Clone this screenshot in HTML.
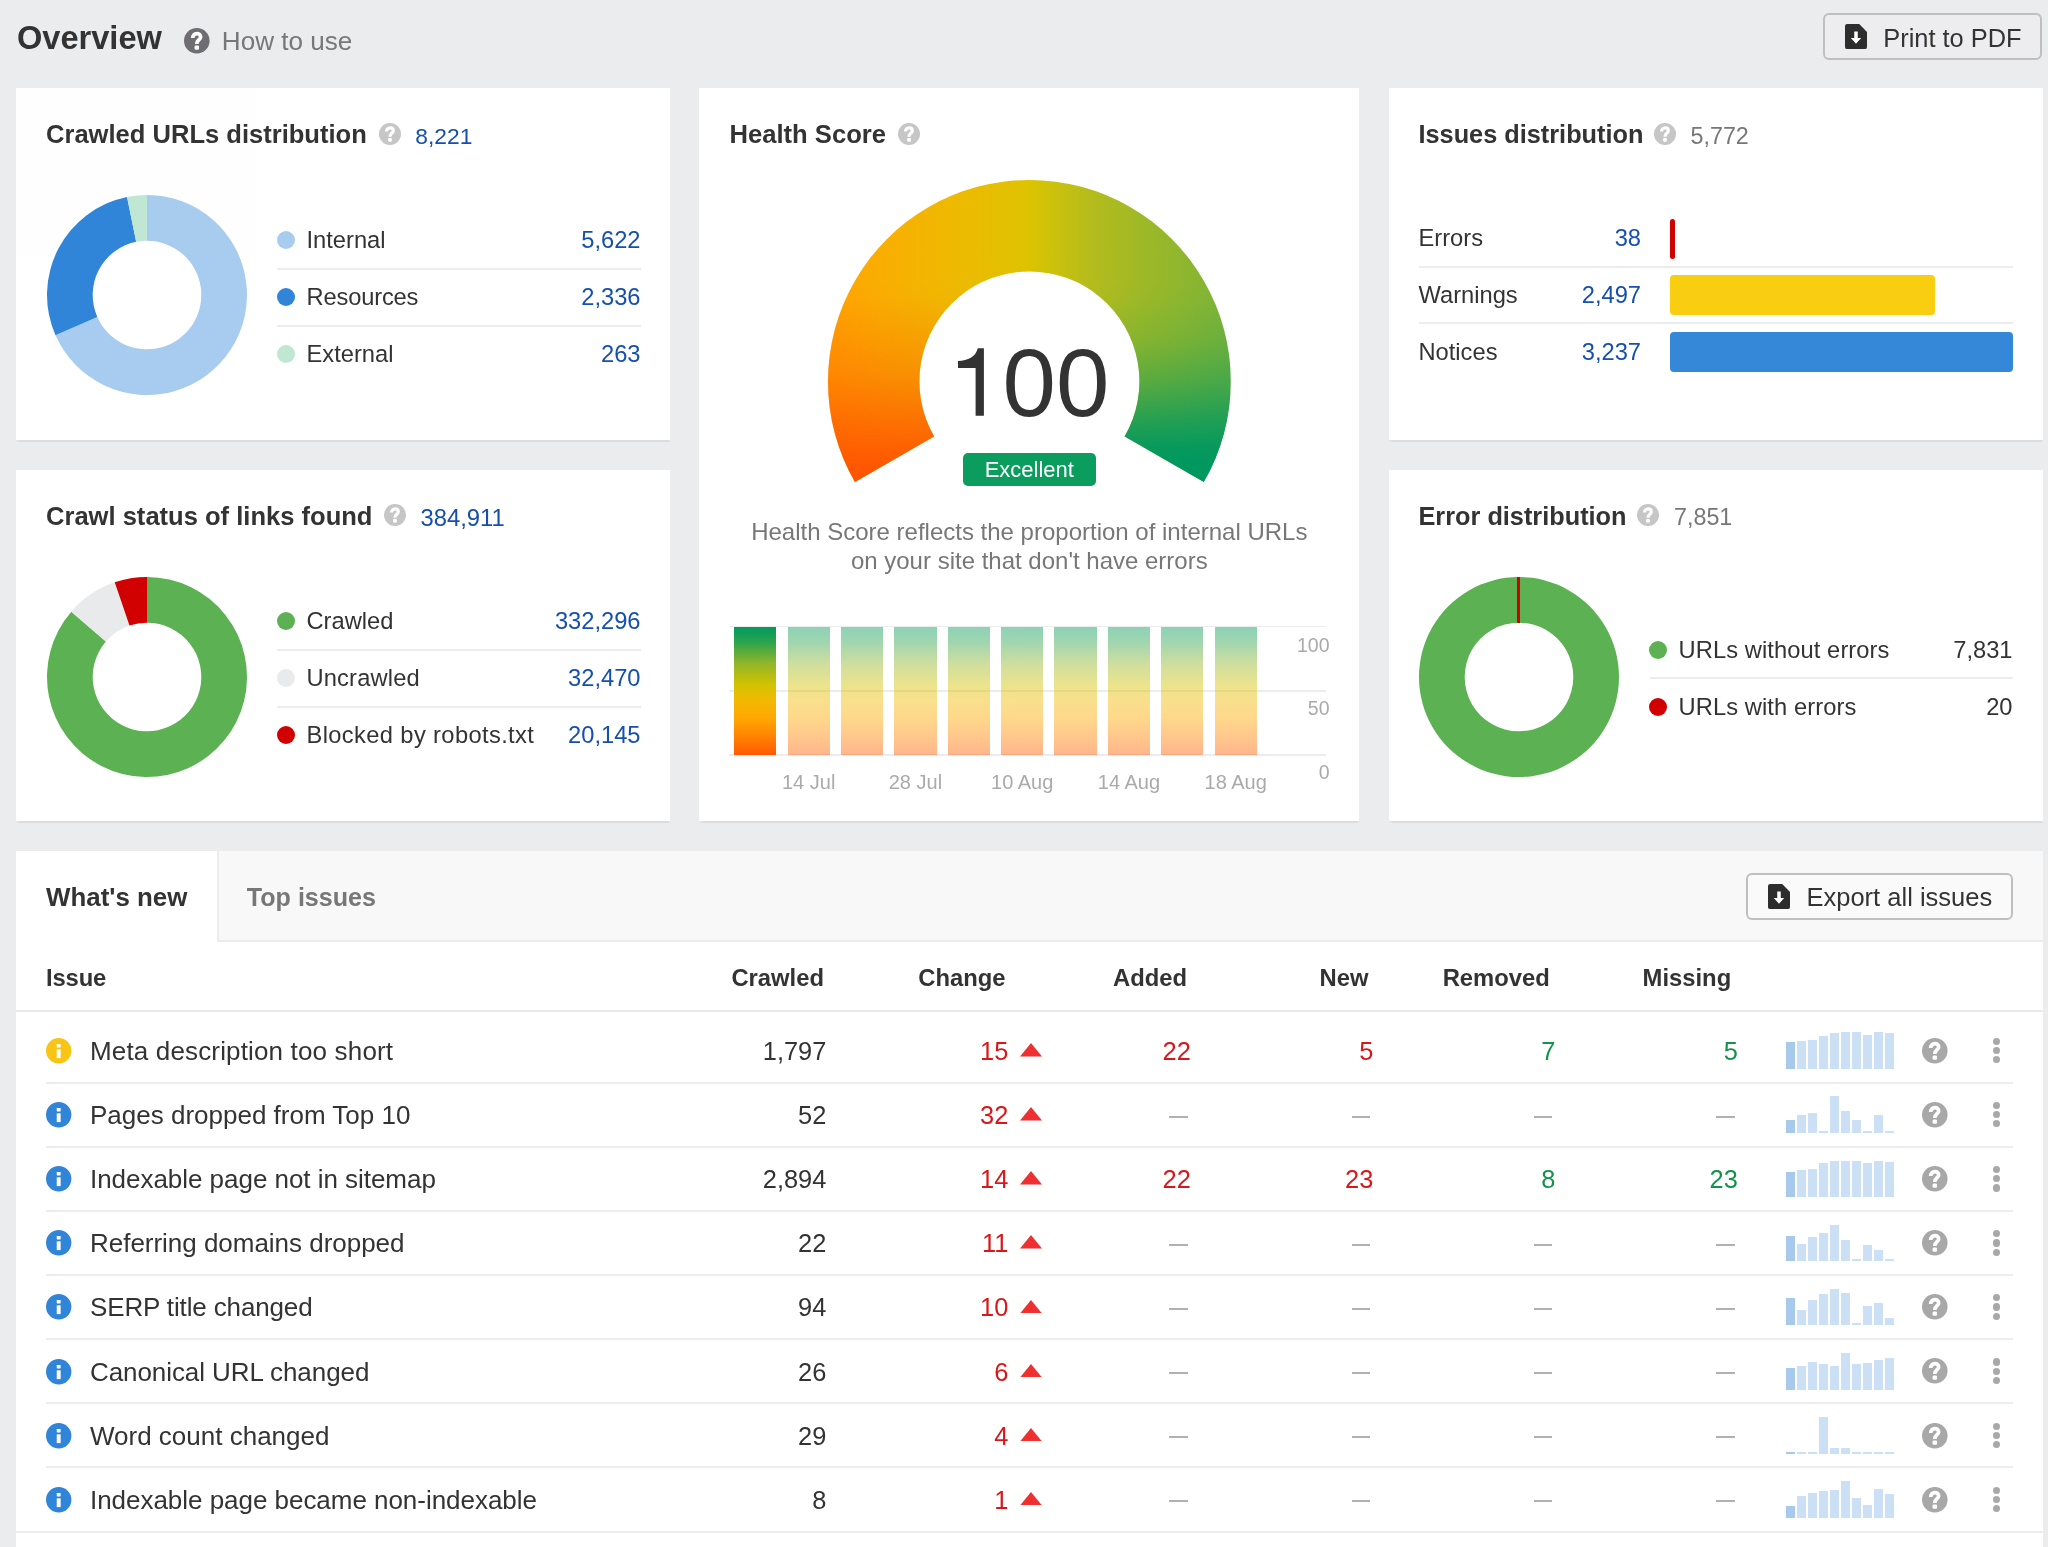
<!DOCTYPE html><html><head><meta charset="utf-8"><title>Overview</title><style>
html,body{margin:0;padding:0;width:2048px;height:1547px;overflow:hidden}
body{width:2048px;height:1547px;background:#ebecee;font-family:"Liberation Sans", sans-serif;color:#333;position:relative;overflow:hidden}
.card{position:absolute;background:#fff;box-shadow:0 1.5px 1px rgba(0,0,0,.07)}
.hl{position:absolute;height:2px;background:#ececec}
.dot{position:absolute;width:18px;height:18px;border-radius:50%}
.btn{position:absolute;box-sizing:border-box;border:2px solid #bfbfc1;border-radius:6px}
#w{position:absolute;left:0;top:0;width:2048px;height:1547px;will-change:transform;opacity:.9999;overflow:hidden}
</style></head><body><div id="w">
<div style="position:absolute;top:21.60px;font-size:32.6px;line-height:32.6px;white-space:nowrap;color:#333;font-weight:bold;left:17.00px;">Overview</div>
<svg style="position:absolute;left:184.10px;top:27.70px;overflow:visible" width="25.60" height="25.60" viewBox="0 0 24 24"><circle cx="12" cy="12" r="12" fill="#6e6e72"/><path d="M8.2 9.4C8.2 6.9 9.8 5.3 12.1 5.3C14.3 5.3 15.6 6.7 15.6 8.4C15.6 9.9 14.6 10.7 13.6 11.5C12.5 12.4 12 13.1 12 14.9" fill="none" stroke="#fff" stroke-width="3.5"/><rect x="9.9" y="16.3" width="4.2" height="4.1" rx="1.2" fill="#fff"/></svg>
<div style="position:absolute;top:28.41px;font-size:26.1px;line-height:26.1px;white-space:nowrap;color:#777;left:221.80px;">How to use</div>
<div class="btn" style="left:1822.7px;top:12.8px;width:219.8px;height:47.4px;background:#ededef"></div>
<svg style="position:absolute;left:1844.60px;top:24.20px;overflow:visible" width="22" height="25.2" viewBox="0 0 22 25"><path d="M2.2 0H14.2L22 7.8V22.8Q22 25 19.8 25H2.2Q0 25 0 22.8V2.2Q0 0 2.2 0Z" fill="#2d2d2d"/><path d="M9.25 7.4h3.5v6.6h3.45L11 19.7 5.8 14h3.45z" fill="#fff"/></svg>
<div style="position:absolute;top:25.60px;font-size:25.4px;line-height:25.4px;white-space:nowrap;color:#333;left:1883.30px;">Print to PDF</div>
<div class="card" style="left:16px;top:88px;width:654px;height:352px"></div>
<div class="card" style="left:699px;top:88px;width:660px;height:733px"></div>
<div class="card" style="left:1389px;top:88px;width:654px;height:352px"></div>
<div class="card" style="left:16px;top:469.5px;width:654px;height:351.5px"></div>
<div class="card" style="left:1389px;top:469.5px;width:654px;height:351.5px"></div>
<div style="position:absolute;top:122.27px;font-size:25.55px;line-height:25.55px;white-space:nowrap;color:#333;font-weight:bold;left:46.00px;">Crawled URLs distribution</div>
<svg style="position:absolute;left:378.60px;top:123.20px;overflow:visible" width="22.00" height="22.00" viewBox="0 0 24 24"><circle cx="12" cy="12" r="12" fill="#c6c6c6"/><path d="M8.2 9.4C8.2 6.9 9.8 5.3 12.1 5.3C14.3 5.3 15.6 6.7 15.6 8.4C15.6 9.9 14.6 10.7 13.6 11.5C12.5 12.4 12 13.1 12 14.9" fill="none" stroke="#fff" stroke-width="3.5"/><rect x="9.9" y="16.3" width="4.2" height="4.1" rx="1.2" fill="#fff"/></svg>
<div style="position:absolute;top:125.00px;font-size:22.8px;line-height:22.8px;white-space:nowrap;color:#1450ac;left:415.30px;">8,221</div>
<svg style="position:absolute;left:45.00px;top:193.30px" width="204" height="204" viewBox="-102 -102 204 204">
<path d="M0.00 -100.00A100 100 0 1 1 -91.49 40.37L-49.68 21.92A54.3 54.3 0 1 0 0.00 -54.30Z" fill="#a8ccef"/>
<path d="M-91.49 40.37A100 100 0 0 1 -19.97 -97.99L-10.84 -53.21A54.3 54.3 0 0 0 -49.68 21.92Z" fill="#3185d9"/>
<path d="M-19.97 -97.99A100 100 0 0 1 -0.00 -100.00L-0.00 -54.30A54.3 54.3 0 0 0 -10.84 -53.21Z" fill="#bfe7d3"/>
</svg>
<div class="dot" style="left:276.70px;top:231.30px;background:#a8ccef"></div>
<div style="position:absolute;top:229.180px;font-size:23.7px;line-height:23.7px;white-space:nowrap;color:#333;left:306.50px;letter-spacing:0px;">Internal</div>
<div style="position:absolute;top:229.180px;font-size:23.7px;line-height:23.7px;white-space:nowrap;color:#1450ac;right:1407.50px;">5,622</div>
<div class="dot" style="left:276.70px;top:288.00px;background:#3185d9"></div>
<div style="position:absolute;top:286.180px;font-size:23.7px;line-height:23.7px;white-space:nowrap;color:#333;left:306.50px;letter-spacing:-0.16px;">Resources</div>
<div style="position:absolute;top:286.180px;font-size:23.7px;line-height:23.7px;white-space:nowrap;color:#1450ac;right:1407.50px;">2,336</div>
<div class="dot" style="left:276.70px;top:344.70px;background:#bfe7d3"></div>
<div style="position:absolute;top:343.180px;font-size:23.7px;line-height:23.7px;white-space:nowrap;color:#333;left:306.50px;letter-spacing:0px;">External</div>
<div style="position:absolute;top:343.180px;font-size:23.7px;line-height:23.7px;white-space:nowrap;color:#1450ac;right:1407.50px;">263</div>
<div class="hl" style="left:276.80px;top:268.00px;width:364.00px"></div>
<div class="hl" style="left:276.80px;top:324.70px;width:364.00px"></div>
<div style="position:absolute;top:503.57px;font-size:25.55px;line-height:25.55px;white-space:nowrap;color:#333;font-weight:bold;left:46.00px;">Crawl status of links found</div>
<svg style="position:absolute;left:384.00px;top:504.20px;overflow:visible" width="22.00" height="22.00" viewBox="0 0 24 24"><circle cx="12" cy="12" r="12" fill="#c6c6c6"/><path d="M8.2 9.4C8.2 6.9 9.8 5.3 12.1 5.3C14.3 5.3 15.6 6.7 15.6 8.4C15.6 9.9 14.6 10.7 13.6 11.5C12.5 12.4 12 13.1 12 14.9" fill="none" stroke="#fff" stroke-width="3.5"/><rect x="9.9" y="16.3" width="4.2" height="4.1" rx="1.2" fill="#fff"/></svg>
<div style="position:absolute;top:505.55px;font-size:23.8px;line-height:23.8px;white-space:nowrap;color:#1450ac;left:420.50px;">384,911</div>
<svg style="position:absolute;left:45.00px;top:574.80px" width="204" height="204" viewBox="-102 -102 204 204">
<path d="M0.00 -100.00A100 100 0 1 1 -75.71 -65.33L-41.11 -35.47A54.3 54.3 0 1 0 0.00 -54.30Z" fill="#5cb253"/>
<path d="M-75.71 -65.33A100 100 0 0 1 -32.29 -94.64L-17.54 -51.39A54.3 54.3 0 0 0 -41.11 -35.47Z" fill="#e9eaec"/>
<path d="M-32.29 -94.64A100 100 0 0 1 -0.00 -100.00L-0.00 -54.30A54.3 54.3 0 0 0 -17.54 -51.39Z" fill="#d20000"/>
</svg>
<div class="dot" style="left:276.70px;top:612.30px;background:#5cb253"></div>
<div style="position:absolute;top:610.180px;font-size:23.7px;line-height:23.7px;white-space:nowrap;color:#333;left:306.50px;letter-spacing:0px;">Crawled</div>
<div style="position:absolute;top:610.180px;font-size:23.7px;line-height:23.7px;white-space:nowrap;color:#1450ac;right:1407.50px;">332,296</div>
<div class="dot" style="left:276.70px;top:669.30px;background:#e9eaec"></div>
<div style="position:absolute;top:667.180px;font-size:23.7px;line-height:23.7px;white-space:nowrap;color:#333;left:306.50px;letter-spacing:0.16px;">Uncrawled</div>
<div style="position:absolute;top:667.180px;font-size:23.7px;line-height:23.7px;white-space:nowrap;color:#1450ac;right:1407.50px;">32,470</div>
<div class="dot" style="left:276.70px;top:726.20px;background:#d20000"></div>
<div style="position:absolute;top:724.180px;font-size:23.7px;line-height:23.7px;white-space:nowrap;color:#333;left:306.50px;letter-spacing:0.375px;">Blocked by robots.txt</div>
<div style="position:absolute;top:724.180px;font-size:23.7px;line-height:23.7px;white-space:nowrap;color:#1450ac;right:1407.50px;">20,145</div>
<div class="hl" style="left:276.80px;top:649.00px;width:364.00px"></div>
<div class="hl" style="left:276.80px;top:705.70px;width:364.00px"></div>
<div style="position:absolute;top:122.48px;font-size:25.3px;line-height:25.3px;white-space:nowrap;color:#333;font-weight:bold;left:1418.50px;">Issues distribution</div>
<svg style="position:absolute;left:1653.60px;top:123.20px;overflow:visible" width="22.00" height="22.00" viewBox="0 0 24 24"><circle cx="12" cy="12" r="12" fill="#c6c6c6"/><path d="M8.2 9.4C8.2 6.9 9.8 5.3 12.1 5.3C14.3 5.3 15.6 6.7 15.6 8.4C15.6 9.9 14.6 10.7 13.6 11.5C12.5 12.4 12 13.1 12 14.9" fill="none" stroke="#fff" stroke-width="3.5"/><rect x="9.9" y="16.3" width="4.2" height="4.1" rx="1.2" fill="#fff"/></svg>
<div style="position:absolute;top:124.58px;font-size:23.3px;line-height:23.3px;white-space:nowrap;color:#777;left:1690.50px;">5,772</div>
<div style="position:absolute;top:227.180px;font-size:23.7px;line-height:23.7px;white-space:nowrap;color:#333;left:1418.50px;">Errors</div>
<div style="position:absolute;top:227.180px;font-size:23.7px;line-height:23.7px;white-space:nowrap;color:#1450ac;right:407.00px;">38</div>
<div style="position:absolute;top:284.180px;font-size:23.7px;line-height:23.7px;white-space:nowrap;color:#333;left:1418.50px;">Warnings</div>
<div style="position:absolute;top:284.180px;font-size:23.7px;line-height:23.7px;white-space:nowrap;color:#1450ac;right:407.00px;">2,497</div>
<div style="position:absolute;top:341.180px;font-size:23.7px;line-height:23.7px;white-space:nowrap;color:#333;left:1418.50px;">Notices</div>
<div style="position:absolute;top:341.180px;font-size:23.7px;line-height:23.7px;white-space:nowrap;color:#1450ac;right:407.00px;">3,237</div>
<div class="hl" style="left:1418.5px;top:265.5px;width:594.5px"></div>
<div class="hl" style="left:1418.5px;top:322.4px;width:594.5px"></div>
<div style="position:absolute;left:1670.3px;top:218.5px;width:4.5px;height:40px;border-radius:2.5px;background:#d20000"></div>
<div style="position:absolute;left:1670.3px;top:275px;width:264.8px;height:40px;border-radius:4px;background:#f9ce10"></div>
<div style="position:absolute;left:1670.3px;top:332px;width:342.7px;height:40px;border-radius:4px;background:#3587d8"></div>
<div style="position:absolute;top:503.78px;font-size:25.3px;line-height:25.3px;white-space:nowrap;color:#333;font-weight:bold;left:1418.50px;">Error distribution</div>
<svg style="position:absolute;left:1637.00px;top:504.20px;overflow:visible" width="22.00" height="22.00" viewBox="0 0 24 24"><circle cx="12" cy="12" r="12" fill="#c6c6c6"/><path d="M8.2 9.4C8.2 6.9 9.8 5.3 12.1 5.3C14.3 5.3 15.6 6.7 15.6 8.4C15.6 9.9 14.6 10.7 13.6 11.5C12.5 12.4 12 13.1 12 14.9" fill="none" stroke="#fff" stroke-width="3.5"/><rect x="9.9" y="16.3" width="4.2" height="4.1" rx="1.2" fill="#fff"/></svg>
<div style="position:absolute;top:505.78px;font-size:23.3px;line-height:23.3px;white-space:nowrap;color:#777;left:1674.00px;">7,851</div>
<svg style="position:absolute;left:1416.60px;top:574.80px" width="204" height="204" viewBox="-102 -102 204 204">
<path d="M0.00 -100.00A100 100 0 1 1 -0.02 -100.00L-0.01 -54.30A54.3 54.3 0 1 0 0.00 -54.30Z" fill="#5cb253"/>
</svg>
<div style="position:absolute;left:1516.6px;top:576.8px;width:3.2px;height:46px;background:#d20000"></div>
<div class="dot" style="left:1649.40px;top:641.30px;background:#5cb253"></div>
<div style="position:absolute;top:639.180px;font-size:23.7px;line-height:23.7px;white-space:nowrap;color:#333;left:1678.50px;letter-spacing:0.09px;">URLs without errors</div>
<div style="position:absolute;top:639.180px;font-size:23.7px;line-height:23.7px;white-space:nowrap;color:#333;right:35.50px;">7,831</div>
<div class="dot" style="left:1649.40px;top:697.90px;background:#d20000"></div>
<div style="position:absolute;top:696.180px;font-size:23.7px;line-height:23.7px;white-space:nowrap;color:#333;left:1678.50px;letter-spacing:0.09px;">URLs with errors</div>
<div style="position:absolute;top:696.180px;font-size:23.7px;line-height:23.7px;white-space:nowrap;color:#333;right:35.50px;">20</div>
<div class="hl" style="left:1649.70px;top:677.10px;width:363.30px"></div>
<div style="position:absolute;top:122.23px;font-size:25.6px;line-height:25.6px;white-space:nowrap;color:#333;font-weight:bold;left:729.50px;">Health Score</div>
<svg style="position:absolute;left:897.50px;top:123.00px;overflow:visible" width="22.00" height="22.00" viewBox="0 0 24 24"><circle cx="12" cy="12" r="12" fill="#c6c6c6"/><path d="M8.2 9.4C8.2 6.9 9.8 5.3 12.1 5.3C14.3 5.3 15.6 6.7 15.6 8.4C15.6 9.9 14.6 10.7 13.6 11.5C12.5 12.4 12 13.1 12 14.9" fill="none" stroke="#fff" stroke-width="3.5"/><rect x="9.9" y="16.3" width="4.2" height="4.1" rx="1.2" fill="#fff"/></svg>
<svg style="position:absolute;left:825.90px;top:177.80px;overflow:visible" width="406.8" height="406.8" viewBox="-203.4 -203.4 406.8 406.8">
<defs>
<clipPath id="gc"><path d="M-174.42 100.70A201.4 201.4 0 1 1 174.42 100.70L95.26 55.00A110 110 0 1 0 -95.26 55.00Z"/></clipPath>
<linearGradient id="gh" x1="0" y1="0" x2="1" y2="0">
<stop offset="0" stop-color="#ffa400"/>
<stop offset="0.13" stop-color="#f9ae00"/>
<stop offset="0.29" stop-color="#f0b800"/>
<stop offset="0.49" stop-color="#dfc300"/>
<stop offset="0.545" stop-color="#d0c208"/>
<stop offset="0.65" stop-color="#b5bc1c"/>
<stop offset="0.8" stop-color="#9bb828"/>
<stop offset="0.96" stop-color="#82b535"/>
<stop offset="1" stop-color="#7db437"/>
</linearGradient>
<linearGradient id="gl" x1="0" y1="0" x2="0" y2="1">
<stop offset="0" stop-color="#ff5200" stop-opacity="0"/>
<stop offset="0.08" stop-color="#ff5200" stop-opacity="0.02"/>
<stop offset="0.45" stop-color="#ff5200" stop-opacity="0.35"/>
<stop offset="0.7" stop-color="#ff5200" stop-opacity="0.68"/>
<stop offset="0.9" stop-color="#ff5200" stop-opacity="0.93"/>
<stop offset="1" stop-color="#ff5200" stop-opacity="1"/>
</linearGradient>
<linearGradient id="gr" x1="0" y1="0" x2="0" y2="1">
<stop offset="0" stop-color="#00985f" stop-opacity="0"/>
<stop offset="0.1" stop-color="#00985f" stop-opacity="0.03"/>
<stop offset="0.3" stop-color="#00985f" stop-opacity="0.17"/>
<stop offset="0.5" stop-color="#00985f" stop-opacity="0.44"/>
<stop offset="0.7" stop-color="#00985f" stop-opacity="0.78"/>
<stop offset="0.82" stop-color="#00985f" stop-opacity="0.95"/>
<stop offset="0.9" stop-color="#00985f" stop-opacity="1"/>
<stop offset="1" stop-color="#00985f" stop-opacity="1"/>
</linearGradient>
</defs>
<g clip-path="url(#gc)">
<rect x="-201.4" y="-201.4" width="402.8" height="402.8" fill="url(#gh)"/>
<rect x="-201.4" y="-100" width="201.4" height="202" fill="url(#gl)"/>
<rect x="0" y="-100" width="201.4" height="202" fill="url(#gr)"/>
</g></svg>
<div style="position:absolute;top:334.74px;font-size:96px;line-height:96px;white-space:nowrap;color:#333;left:429.30px;width:1200px;text-align:center;"><span style="visibility:hidden">1</span>00</div>
<svg style="position:absolute;left:0;top:0;overflow:visible" width="10" height="10"><path d="M977.8 348.2L983.9 348.2L983.9 415.8L975.6 415.8L975.6 368L958 368L958 360.9C968 360.6 975.5 357 977.8 348.2Z" fill="#333"/></svg>
<div style="position:absolute;left:963px;top:453px;width:133px;height:32.5px;border-radius:5px;background:#0a9d5e"></div>
<div style="position:absolute;top:458.68px;font-size:22px;line-height:22px;white-space:nowrap;color:#fff;left:429.30px;width:1200px;text-align:center;">Excellent</div>
<div style="position:absolute;top:520.28px;font-size:24px;line-height:24px;white-space:nowrap;color:#777;left:429.30px;width:1200px;text-align:center;">Health Score reflects the proportion of internal URLs</div>
<div style="position:absolute;top:549.48px;font-size:24px;line-height:24px;white-space:nowrap;color:#777;left:429.30px;width:1200px;text-align:center;">on your site that don't have errors</div>
<div style="position:absolute;left:729px;top:626.10px;width:597px;height:1.4px;background:#ececec"></div>
<div style="position:absolute;left:729px;top:690.20px;width:597px;height:1.4px;background:#ececec"></div>
<div style="position:absolute;left:729px;top:754.30px;width:597px;height:1.4px;background:#ececec"></div>
<div style="position:absolute;left:734.20px;top:626.8px;width:42.2px;height:128.2px;background:linear-gradient(to bottom,#009a5e 0%,#2da44d 12%,#8fb52a 28%,#d2c200 45%,#f3b800 58%,#ffa600 72%,#ff8200 86%,#ff5a00 100%);opacity:1"></div>
<div style="position:absolute;left:787.58px;top:626.8px;width:42.2px;height:128.2px;background:linear-gradient(to bottom,#009a5e 0%,#2da44d 12%,#8fb52a 28%,#d2c200 45%,#f3b800 58%,#ffa600 72%,#ff8200 86%,#ff5a00 100%);opacity:0.45"></div>
<div style="position:absolute;left:840.96px;top:626.8px;width:42.2px;height:128.2px;background:linear-gradient(to bottom,#009a5e 0%,#2da44d 12%,#8fb52a 28%,#d2c200 45%,#f3b800 58%,#ffa600 72%,#ff8200 86%,#ff5a00 100%);opacity:0.45"></div>
<div style="position:absolute;left:894.34px;top:626.8px;width:42.2px;height:128.2px;background:linear-gradient(to bottom,#009a5e 0%,#2da44d 12%,#8fb52a 28%,#d2c200 45%,#f3b800 58%,#ffa600 72%,#ff8200 86%,#ff5a00 100%);opacity:0.45"></div>
<div style="position:absolute;left:947.72px;top:626.8px;width:42.2px;height:128.2px;background:linear-gradient(to bottom,#009a5e 0%,#2da44d 12%,#8fb52a 28%,#d2c200 45%,#f3b800 58%,#ffa600 72%,#ff8200 86%,#ff5a00 100%);opacity:0.45"></div>
<div style="position:absolute;left:1001.10px;top:626.8px;width:42.2px;height:128.2px;background:linear-gradient(to bottom,#009a5e 0%,#2da44d 12%,#8fb52a 28%,#d2c200 45%,#f3b800 58%,#ffa600 72%,#ff8200 86%,#ff5a00 100%);opacity:0.45"></div>
<div style="position:absolute;left:1054.48px;top:626.8px;width:42.2px;height:128.2px;background:linear-gradient(to bottom,#009a5e 0%,#2da44d 12%,#8fb52a 28%,#d2c200 45%,#f3b800 58%,#ffa600 72%,#ff8200 86%,#ff5a00 100%);opacity:0.45"></div>
<div style="position:absolute;left:1107.86px;top:626.8px;width:42.2px;height:128.2px;background:linear-gradient(to bottom,#009a5e 0%,#2da44d 12%,#8fb52a 28%,#d2c200 45%,#f3b800 58%,#ffa600 72%,#ff8200 86%,#ff5a00 100%);opacity:0.45"></div>
<div style="position:absolute;left:1161.24px;top:626.8px;width:42.2px;height:128.2px;background:linear-gradient(to bottom,#009a5e 0%,#2da44d 12%,#8fb52a 28%,#d2c200 45%,#f3b800 58%,#ffa600 72%,#ff8200 86%,#ff5a00 100%);opacity:0.45"></div>
<div style="position:absolute;left:1214.62px;top:626.8px;width:42.2px;height:128.2px;background:linear-gradient(to bottom,#009a5e 0%,#2da44d 12%,#8fb52a 28%,#d2c200 45%,#f3b800 58%,#ffa600 72%,#ff8200 86%,#ff5a00 100%);opacity:0.45"></div>
<div style="position:absolute;top:635.99px;font-size:19.5px;line-height:19.5px;white-space:nowrap;color:#aaa;right:718.50px;">100</div>
<div style="position:absolute;top:699.29px;font-size:19.5px;line-height:19.5px;white-space:nowrap;color:#aaa;right:718.50px;">50</div>
<div style="position:absolute;top:763.29px;font-size:19.5px;line-height:19.5px;white-space:nowrap;color:#aaa;right:718.50px;">0</div>
<div style="position:absolute;top:771.57px;font-size:20px;line-height:20px;white-space:nowrap;color:#aaa;left:208.68px;width:1200px;text-align:center;">14 Jul</div>
<div style="position:absolute;top:771.57px;font-size:20px;line-height:20px;white-space:nowrap;color:#aaa;left:315.44px;width:1200px;text-align:center;">28 Jul</div>
<div style="position:absolute;top:771.57px;font-size:20px;line-height:20px;white-space:nowrap;color:#aaa;left:422.20px;width:1200px;text-align:center;">10 Aug</div>
<div style="position:absolute;top:771.57px;font-size:20px;line-height:20px;white-space:nowrap;color:#aaa;left:528.96px;width:1200px;text-align:center;">14 Aug</div>
<div style="position:absolute;top:771.57px;font-size:20px;line-height:20px;white-space:nowrap;color:#aaa;left:635.72px;width:1200px;text-align:center;">18 Aug</div>
<div class="card" style="left:16px;top:851px;width:2027px;height:696px"></div>
<div style="position:absolute;left:217px;top:851px;width:1826px;height:91.2px;background:#f8f8f8;border-left:2px solid #ececec;border-bottom:2px solid #ececec;box-sizing:border-box"></div>
<div style="position:absolute;top:884.68px;font-size:25.9px;line-height:25.9px;white-space:nowrap;color:#333;font-weight:bold;left:46.00px;">What's new</div>
<div style="position:absolute;top:885.35px;font-size:25.1px;line-height:25.1px;white-space:nowrap;color:#777;font-weight:bold;left:246.80px;">Top issues</div>
<div class="btn" style="left:1745.8px;top:873.2px;width:267px;height:46.8px;background:#fafafa"></div>
<svg style="position:absolute;left:1767.50px;top:884.20px;overflow:visible" width="22" height="25.2" viewBox="0 0 22 25"><path d="M2.2 0H14.2L22 7.8V22.8Q22 25 19.8 25H2.2Q0 25 0 22.8V2.2Q0 0 2.2 0Z" fill="#2d2d2d"/><path d="M9.25 7.4h3.5v6.6h3.45L11 19.7 5.8 14h3.45z" fill="#fff"/></svg>
<div style="position:absolute;top:885.01px;font-size:25.5px;line-height:25.5px;white-space:nowrap;color:#333;left:1806.50px;">Export all issues</div>
<div style="position:absolute;top:965.630px;font-size:23.8px;line-height:23.8px;white-space:nowrap;color:#333;font-weight:bold;left:46.00px;letter-spacing:-0.15px;">Issue</div>
<div style="position:absolute;top:965.630px;font-size:23.8px;line-height:23.8px;white-space:nowrap;color:#333;font-weight:bold;right:1224.00px;">Crawled</div>
<div style="position:absolute;top:965.630px;font-size:23.8px;line-height:23.8px;white-space:nowrap;color:#333;font-weight:bold;right:1042.50px;">Change</div>
<div style="position:absolute;top:965.630px;font-size:23.8px;line-height:23.8px;white-space:nowrap;color:#333;font-weight:bold;right:861.00px;">Added</div>
<div style="position:absolute;top:965.630px;font-size:23.8px;line-height:23.8px;white-space:nowrap;color:#333;font-weight:bold;right:679.50px;">New</div>
<div style="position:absolute;top:965.630px;font-size:23.8px;line-height:23.8px;white-space:nowrap;color:#333;font-weight:bold;right:498.20px;">Removed</div>
<div style="position:absolute;top:965.630px;font-size:23.8px;line-height:23.8px;white-space:nowrap;color:#333;font-weight:bold;right:316.80px;">Missing</div>
<div class="hl" style="left:16px;top:1009.6px;width:2027px;background:#e9e9e9"></div>
<svg style="position:absolute;left:46.00px;top:1037.80px;overflow:visible" width="25.40" height="25.40" viewBox="0 0 24 24"><circle cx="12" cy="12" r="12" fill="#f9c515"/><rect x="10.15" y="5.6" width="3.7" height="3.3" rx="0.6" fill="#fff"/><rect x="10.15" y="10.7" width="3.7" height="8.3" fill="#fff"/></svg>
<div style="position:absolute;top:1038.030px;font-size:26px;line-height:26px;white-space:nowrap;color:#333;left:90.00px;letter-spacing:0.155px;">Meta description too short</div>
<div style="position:absolute;top:1039.330px;font-size:25.4px;line-height:25.4px;white-space:nowrap;color:#333;right:1221.70px;">1,797</div>
<div style="position:absolute;top:1039.330px;font-size:25.4px;line-height:25.4px;white-space:nowrap;color:#d9171a;right:1039.70px;">15</div>
<svg style="position:absolute;left:1019.5px;top:1043.00px" width="22" height="13.5" viewBox="0 0 22 13.5"><path d="M11 0L22 13.5H0Z" fill="#ef3030"/></svg>
<div style="position:absolute;top:1039.330px;font-size:25.4px;line-height:25.4px;white-space:nowrap;color:#d9171a;right:857.20px;">22</div>
<div style="position:absolute;top:1039.330px;font-size:25.4px;line-height:25.4px;white-space:nowrap;color:#d9171a;right:674.70px;">5</div>
<div style="position:absolute;top:1039.330px;font-size:25.4px;line-height:25.4px;white-space:nowrap;color:#12924a;right:492.70px;">7</div>
<div style="position:absolute;top:1039.330px;font-size:25.4px;line-height:25.4px;white-space:nowrap;color:#12924a;right:310.20px;">5</div>
<div style="position:absolute;left:1786.00px;top:1042.20px;width:9px;height:26.70px;background:#a6c9ec"></div>
<div style="position:absolute;left:1797.00px;top:1041.30px;width:9px;height:27.60px;background:#cbdff5"></div>
<div style="position:absolute;left:1808.00px;top:1040.30px;width:9px;height:28.60px;background:#cbdff5"></div>
<div style="position:absolute;left:1819.00px;top:1036.10px;width:9px;height:32.80px;background:#cbdff5"></div>
<div style="position:absolute;left:1830.00px;top:1033.10px;width:9px;height:35.80px;background:#cbdff5"></div>
<div style="position:absolute;left:1841.00px;top:1032.10px;width:9px;height:36.80px;background:#cbdff5"></div>
<div style="position:absolute;left:1852.00px;top:1032.10px;width:9px;height:36.80px;background:#cbdff5"></div>
<div style="position:absolute;left:1863.00px;top:1035.10px;width:9px;height:33.80px;background:#cbdff5"></div>
<div style="position:absolute;left:1874.00px;top:1032.10px;width:9px;height:36.80px;background:#cbdff5"></div>
<div style="position:absolute;left:1885.00px;top:1033.10px;width:9px;height:35.80px;background:#cbdff5"></div>
<svg style="position:absolute;left:1921.60px;top:1037.70px;overflow:visible" width="25.60" height="25.60" viewBox="0 0 24 24"><circle cx="12" cy="12" r="12" fill="#a8a8a8"/><path d="M8.2 9.4C8.2 6.9 9.8 5.3 12.1 5.3C14.3 5.3 15.6 6.7 15.6 8.4C15.6 9.9 14.6 10.7 13.6 11.5C12.5 12.4 12 13.1 12 14.9" fill="none" stroke="#fff" stroke-width="3.5"/><rect x="9.9" y="16.3" width="4.2" height="4.1" rx="1.2" fill="#fff"/></svg>
<div style="position:absolute;left:1993.00px;top:1037.70px;width:7.2px;height:7.2px;border-radius:50%;background:#a8a8a8"></div>
<div style="position:absolute;left:1993.00px;top:1046.90px;width:7.2px;height:7.2px;border-radius:50%;background:#a8a8a8"></div>
<div style="position:absolute;left:1993.00px;top:1056.10px;width:7.2px;height:7.2px;border-radius:50%;background:#a8a8a8"></div>
<div class="hl" style="left:46px;top:1081.60px;width:1967px"></div>
<svg style="position:absolute;left:46.00px;top:1101.94px;overflow:visible" width="25.40" height="25.40" viewBox="0 0 24 24"><circle cx="12" cy="12" r="12" fill="#3185d9"/><rect x="10.15" y="5.6" width="3.7" height="3.3" rx="0.6" fill="#fff"/><rect x="10.15" y="10.7" width="3.7" height="8.3" fill="#fff"/></svg>
<div style="position:absolute;top:1102.030px;font-size:26px;line-height:26px;white-space:nowrap;color:#333;left:90.00px;letter-spacing:0px;">Pages dropped from Top 10</div>
<div style="position:absolute;top:1103.330px;font-size:25.4px;line-height:25.4px;white-space:nowrap;color:#333;right:1221.70px;">52</div>
<div style="position:absolute;top:1103.330px;font-size:25.4px;line-height:25.4px;white-space:nowrap;color:#d9171a;right:1039.70px;">32</div>
<svg style="position:absolute;left:1019.5px;top:1107.14px" width="22" height="13.5" viewBox="0 0 22 13.5"><path d="M11 0L22 13.5H0Z" fill="#ef3030"/></svg>
<div style="position:absolute;left:1169.00px;top:1115.54px;width:18.5px;height:2px;background:#b0b0b0"></div>
<div style="position:absolute;left:1351.50px;top:1115.54px;width:18.5px;height:2px;background:#b0b0b0"></div>
<div style="position:absolute;left:1533.50px;top:1115.54px;width:18.5px;height:2px;background:#b0b0b0"></div>
<div style="position:absolute;left:1716.00px;top:1115.54px;width:18.5px;height:2px;background:#b0b0b0"></div>
<div style="position:absolute;left:1786.00px;top:1120.44px;width:9px;height:12.60px;background:#a6c9ec"></div>
<div style="position:absolute;left:1797.00px;top:1115.24px;width:9px;height:17.80px;background:#cbdff5"></div>
<div style="position:absolute;left:1808.00px;top:1113.24px;width:9px;height:19.80px;background:#cbdff5"></div>
<div style="position:absolute;left:1819.00px;top:1131.04px;width:9px;height:2.00px;background:#cbdff5"></div>
<div style="position:absolute;left:1830.00px;top:1096.44px;width:9px;height:36.60px;background:#cbdff5"></div>
<div style="position:absolute;left:1841.00px;top:1111.24px;width:9px;height:21.80px;background:#cbdff5"></div>
<div style="position:absolute;left:1852.00px;top:1120.44px;width:9px;height:12.60px;background:#cbdff5"></div>
<div style="position:absolute;left:1863.00px;top:1131.04px;width:9px;height:2.00px;background:#cbdff5"></div>
<div style="position:absolute;left:1874.00px;top:1115.24px;width:9px;height:17.80px;background:#cbdff5"></div>
<div style="position:absolute;left:1885.00px;top:1131.04px;width:9px;height:2.00px;background:#cbdff5"></div>
<svg style="position:absolute;left:1921.60px;top:1101.84px;overflow:visible" width="25.60" height="25.60" viewBox="0 0 24 24"><circle cx="12" cy="12" r="12" fill="#a8a8a8"/><path d="M8.2 9.4C8.2 6.9 9.8 5.3 12.1 5.3C14.3 5.3 15.6 6.7 15.6 8.4C15.6 9.9 14.6 10.7 13.6 11.5C12.5 12.4 12 13.1 12 14.9" fill="none" stroke="#fff" stroke-width="3.5"/><rect x="9.9" y="16.3" width="4.2" height="4.1" rx="1.2" fill="#fff"/></svg>
<div style="position:absolute;left:1993.00px;top:1101.84px;width:7.2px;height:7.2px;border-radius:50%;background:#a8a8a8"></div>
<div style="position:absolute;left:1993.00px;top:1111.04px;width:7.2px;height:7.2px;border-radius:50%;background:#a8a8a8"></div>
<div style="position:absolute;left:1993.00px;top:1120.24px;width:7.2px;height:7.2px;border-radius:50%;background:#a8a8a8"></div>
<div class="hl" style="left:46px;top:1145.74px;width:1967px"></div>
<svg style="position:absolute;left:46.00px;top:1166.08px;overflow:visible" width="25.40" height="25.40" viewBox="0 0 24 24"><circle cx="12" cy="12" r="12" fill="#3185d9"/><rect x="10.15" y="5.6" width="3.7" height="3.3" rx="0.6" fill="#fff"/><rect x="10.15" y="10.7" width="3.7" height="8.3" fill="#fff"/></svg>
<div style="position:absolute;top:1166.030px;font-size:26px;line-height:26px;white-space:nowrap;color:#333;left:90.00px;letter-spacing:-0.037px;">Indexable page not in sitemap</div>
<div style="position:absolute;top:1167.330px;font-size:25.4px;line-height:25.4px;white-space:nowrap;color:#333;right:1221.70px;">2,894</div>
<div style="position:absolute;top:1167.330px;font-size:25.4px;line-height:25.4px;white-space:nowrap;color:#d9171a;right:1039.70px;">14</div>
<svg style="position:absolute;left:1019.5px;top:1171.28px" width="22" height="13.5" viewBox="0 0 22 13.5"><path d="M11 0L22 13.5H0Z" fill="#ef3030"/></svg>
<div style="position:absolute;top:1167.330px;font-size:25.4px;line-height:25.4px;white-space:nowrap;color:#d9171a;right:857.20px;">22</div>
<div style="position:absolute;top:1167.330px;font-size:25.4px;line-height:25.4px;white-space:nowrap;color:#d9171a;right:674.70px;">23</div>
<div style="position:absolute;top:1167.330px;font-size:25.4px;line-height:25.4px;white-space:nowrap;color:#12924a;right:492.70px;">8</div>
<div style="position:absolute;top:1167.330px;font-size:25.4px;line-height:25.4px;white-space:nowrap;color:#12924a;right:310.20px;">23</div>
<div style="position:absolute;left:1786.00px;top:1171.98px;width:9px;height:25.20px;background:#a6c9ec"></div>
<div style="position:absolute;left:1797.00px;top:1170.18px;width:9px;height:27.00px;background:#cbdff5"></div>
<div style="position:absolute;left:1808.00px;top:1169.18px;width:9px;height:28.00px;background:#cbdff5"></div>
<div style="position:absolute;left:1819.00px;top:1162.58px;width:9px;height:34.60px;background:#cbdff5"></div>
<div style="position:absolute;left:1830.00px;top:1160.68px;width:9px;height:36.50px;background:#cbdff5"></div>
<div style="position:absolute;left:1841.00px;top:1160.68px;width:9px;height:36.50px;background:#cbdff5"></div>
<div style="position:absolute;left:1852.00px;top:1160.68px;width:9px;height:36.50px;background:#cbdff5"></div>
<div style="position:absolute;left:1863.00px;top:1162.58px;width:9px;height:34.60px;background:#cbdff5"></div>
<div style="position:absolute;left:1874.00px;top:1160.68px;width:9px;height:36.50px;background:#cbdff5"></div>
<div style="position:absolute;left:1885.00px;top:1161.68px;width:9px;height:35.50px;background:#cbdff5"></div>
<svg style="position:absolute;left:1921.60px;top:1165.98px;overflow:visible" width="25.60" height="25.60" viewBox="0 0 24 24"><circle cx="12" cy="12" r="12" fill="#a8a8a8"/><path d="M8.2 9.4C8.2 6.9 9.8 5.3 12.1 5.3C14.3 5.3 15.6 6.7 15.6 8.4C15.6 9.9 14.6 10.7 13.6 11.5C12.5 12.4 12 13.1 12 14.9" fill="none" stroke="#fff" stroke-width="3.5"/><rect x="9.9" y="16.3" width="4.2" height="4.1" rx="1.2" fill="#fff"/></svg>
<div style="position:absolute;left:1993.00px;top:1165.98px;width:7.2px;height:7.2px;border-radius:50%;background:#a8a8a8"></div>
<div style="position:absolute;left:1993.00px;top:1175.18px;width:7.2px;height:7.2px;border-radius:50%;background:#a8a8a8"></div>
<div style="position:absolute;left:1993.00px;top:1184.38px;width:7.2px;height:7.2px;border-radius:50%;background:#a8a8a8"></div>
<div class="hl" style="left:46px;top:1209.88px;width:1967px"></div>
<svg style="position:absolute;left:46.00px;top:1230.22px;overflow:visible" width="25.40" height="25.40" viewBox="0 0 24 24"><circle cx="12" cy="12" r="12" fill="#3185d9"/><rect x="10.15" y="5.6" width="3.7" height="3.3" rx="0.6" fill="#fff"/><rect x="10.15" y="10.7" width="3.7" height="8.3" fill="#fff"/></svg>
<div style="position:absolute;top:1230.030px;font-size:26px;line-height:26px;white-space:nowrap;color:#333;left:90.00px;letter-spacing:-0.025px;">Referring domains dropped</div>
<div style="position:absolute;top:1231.330px;font-size:25.4px;line-height:25.4px;white-space:nowrap;color:#333;right:1221.70px;">22</div>
<div style="position:absolute;top:1231.330px;font-size:25.4px;line-height:25.4px;white-space:nowrap;color:#d9171a;right:1039.70px;">11</div>
<svg style="position:absolute;left:1019.5px;top:1235.42px" width="22" height="13.5" viewBox="0 0 22 13.5"><path d="M11 0L22 13.5H0Z" fill="#ef3030"/></svg>
<div style="position:absolute;left:1169.00px;top:1243.82px;width:18.5px;height:2px;background:#b0b0b0"></div>
<div style="position:absolute;left:1351.50px;top:1243.82px;width:18.5px;height:2px;background:#b0b0b0"></div>
<div style="position:absolute;left:1533.50px;top:1243.82px;width:18.5px;height:2px;background:#b0b0b0"></div>
<div style="position:absolute;left:1716.00px;top:1243.82px;width:18.5px;height:2px;background:#b0b0b0"></div>
<div style="position:absolute;left:1786.00px;top:1236.12px;width:9px;height:25.20px;background:#a6c9ec"></div>
<div style="position:absolute;left:1797.00px;top:1244.22px;width:9px;height:17.10px;background:#cbdff5"></div>
<div style="position:absolute;left:1808.00px;top:1237.12px;width:9px;height:24.20px;background:#cbdff5"></div>
<div style="position:absolute;left:1819.00px;top:1233.32px;width:9px;height:28.00px;background:#cbdff5"></div>
<div style="position:absolute;left:1830.00px;top:1225.02px;width:9px;height:36.30px;background:#cbdff5"></div>
<div style="position:absolute;left:1841.00px;top:1239.62px;width:9px;height:21.70px;background:#cbdff5"></div>
<div style="position:absolute;left:1852.00px;top:1259.32px;width:9px;height:2.00px;background:#cbdff5"></div>
<div style="position:absolute;left:1863.00px;top:1245.22px;width:9px;height:16.10px;background:#cbdff5"></div>
<div style="position:absolute;left:1874.00px;top:1250.42px;width:9px;height:10.90px;background:#cbdff5"></div>
<div style="position:absolute;left:1885.00px;top:1259.32px;width:9px;height:2.00px;background:#cbdff5"></div>
<svg style="position:absolute;left:1921.60px;top:1230.12px;overflow:visible" width="25.60" height="25.60" viewBox="0 0 24 24"><circle cx="12" cy="12" r="12" fill="#a8a8a8"/><path d="M8.2 9.4C8.2 6.9 9.8 5.3 12.1 5.3C14.3 5.3 15.6 6.7 15.6 8.4C15.6 9.9 14.6 10.7 13.6 11.5C12.5 12.4 12 13.1 12 14.9" fill="none" stroke="#fff" stroke-width="3.5"/><rect x="9.9" y="16.3" width="4.2" height="4.1" rx="1.2" fill="#fff"/></svg>
<div style="position:absolute;left:1993.00px;top:1230.12px;width:7.2px;height:7.2px;border-radius:50%;background:#a8a8a8"></div>
<div style="position:absolute;left:1993.00px;top:1239.32px;width:7.2px;height:7.2px;border-radius:50%;background:#a8a8a8"></div>
<div style="position:absolute;left:1993.00px;top:1248.52px;width:7.2px;height:7.2px;border-radius:50%;background:#a8a8a8"></div>
<div class="hl" style="left:46px;top:1274.02px;width:1967px"></div>
<svg style="position:absolute;left:46.00px;top:1294.36px;overflow:visible" width="25.40" height="25.40" viewBox="0 0 24 24"><circle cx="12" cy="12" r="12" fill="#3185d9"/><rect x="10.15" y="5.6" width="3.7" height="3.3" rx="0.6" fill="#fff"/><rect x="10.15" y="10.7" width="3.7" height="8.3" fill="#fff"/></svg>
<div style="position:absolute;top:1294.030px;font-size:26px;line-height:26px;white-space:nowrap;color:#333;left:90.00px;letter-spacing:-0.14px;">SERP title changed</div>
<div style="position:absolute;top:1295.330px;font-size:25.4px;line-height:25.4px;white-space:nowrap;color:#333;right:1221.70px;">94</div>
<div style="position:absolute;top:1295.330px;font-size:25.4px;line-height:25.4px;white-space:nowrap;color:#d9171a;right:1039.70px;">10</div>
<svg style="position:absolute;left:1019.5px;top:1299.56px" width="22" height="13.5" viewBox="0 0 22 13.5"><path d="M11 0L22 13.5H0Z" fill="#ef3030"/></svg>
<div style="position:absolute;left:1169.00px;top:1307.96px;width:18.5px;height:2px;background:#b0b0b0"></div>
<div style="position:absolute;left:1351.50px;top:1307.96px;width:18.5px;height:2px;background:#b0b0b0"></div>
<div style="position:absolute;left:1533.50px;top:1307.96px;width:18.5px;height:2px;background:#b0b0b0"></div>
<div style="position:absolute;left:1716.00px;top:1307.96px;width:18.5px;height:2px;background:#b0b0b0"></div>
<div style="position:absolute;left:1786.00px;top:1297.86px;width:9px;height:27.60px;background:#a6c9ec"></div>
<div style="position:absolute;left:1797.00px;top:1309.96px;width:9px;height:15.50px;background:#cbdff5"></div>
<div style="position:absolute;left:1808.00px;top:1299.96px;width:9px;height:25.50px;background:#cbdff5"></div>
<div style="position:absolute;left:1819.00px;top:1294.36px;width:9px;height:31.10px;background:#cbdff5"></div>
<div style="position:absolute;left:1830.00px;top:1288.96px;width:9px;height:36.50px;background:#cbdff5"></div>
<div style="position:absolute;left:1841.00px;top:1293.36px;width:9px;height:32.10px;background:#cbdff5"></div>
<div style="position:absolute;left:1852.00px;top:1322.96px;width:9px;height:2.50px;background:#cbdff5"></div>
<div style="position:absolute;left:1863.00px;top:1306.16px;width:9px;height:19.30px;background:#cbdff5"></div>
<div style="position:absolute;left:1874.00px;top:1302.76px;width:9px;height:22.70px;background:#cbdff5"></div>
<div style="position:absolute;left:1885.00px;top:1318.06px;width:9px;height:7.40px;background:#cbdff5"></div>
<svg style="position:absolute;left:1921.60px;top:1294.26px;overflow:visible" width="25.60" height="25.60" viewBox="0 0 24 24"><circle cx="12" cy="12" r="12" fill="#a8a8a8"/><path d="M8.2 9.4C8.2 6.9 9.8 5.3 12.1 5.3C14.3 5.3 15.6 6.7 15.6 8.4C15.6 9.9 14.6 10.7 13.6 11.5C12.5 12.4 12 13.1 12 14.9" fill="none" stroke="#fff" stroke-width="3.5"/><rect x="9.9" y="16.3" width="4.2" height="4.1" rx="1.2" fill="#fff"/></svg>
<div style="position:absolute;left:1993.00px;top:1294.26px;width:7.2px;height:7.2px;border-radius:50%;background:#a8a8a8"></div>
<div style="position:absolute;left:1993.00px;top:1303.46px;width:7.2px;height:7.2px;border-radius:50%;background:#a8a8a8"></div>
<div style="position:absolute;left:1993.00px;top:1312.66px;width:7.2px;height:7.2px;border-radius:50%;background:#a8a8a8"></div>
<div class="hl" style="left:46px;top:1338.16px;width:1967px"></div>
<svg style="position:absolute;left:46.00px;top:1358.50px;overflow:visible" width="25.40" height="25.40" viewBox="0 0 24 24"><circle cx="12" cy="12" r="12" fill="#3185d9"/><rect x="10.15" y="5.6" width="3.7" height="3.3" rx="0.6" fill="#fff"/><rect x="10.15" y="10.7" width="3.7" height="8.3" fill="#fff"/></svg>
<div style="position:absolute;top:1359.030px;font-size:26px;line-height:26px;white-space:nowrap;color:#333;left:90.00px;letter-spacing:-0.076px;">Canonical URL changed</div>
<div style="position:absolute;top:1360.330px;font-size:25.4px;line-height:25.4px;white-space:nowrap;color:#333;right:1221.70px;">26</div>
<div style="position:absolute;top:1360.330px;font-size:25.4px;line-height:25.4px;white-space:nowrap;color:#d9171a;right:1039.70px;">6</div>
<svg style="position:absolute;left:1019.5px;top:1363.70px" width="22" height="13.5" viewBox="0 0 22 13.5"><path d="M11 0L22 13.5H0Z" fill="#ef3030"/></svg>
<div style="position:absolute;left:1169.00px;top:1372.10px;width:18.5px;height:2px;background:#b0b0b0"></div>
<div style="position:absolute;left:1351.50px;top:1372.10px;width:18.5px;height:2px;background:#b0b0b0"></div>
<div style="position:absolute;left:1533.50px;top:1372.10px;width:18.5px;height:2px;background:#b0b0b0"></div>
<div style="position:absolute;left:1716.00px;top:1372.10px;width:18.5px;height:2px;background:#b0b0b0"></div>
<div style="position:absolute;left:1786.00px;top:1367.80px;width:9px;height:21.80px;background:#a6c9ec"></div>
<div style="position:absolute;left:1797.00px;top:1365.90px;width:9px;height:23.70px;background:#cbdff5"></div>
<div style="position:absolute;left:1808.00px;top:1362.00px;width:9px;height:27.60px;background:#cbdff5"></div>
<div style="position:absolute;left:1819.00px;top:1363.90px;width:9px;height:25.70px;background:#cbdff5"></div>
<div style="position:absolute;left:1830.00px;top:1365.90px;width:9px;height:23.70px;background:#cbdff5"></div>
<div style="position:absolute;left:1841.00px;top:1352.80px;width:9px;height:36.80px;background:#cbdff5"></div>
<div style="position:absolute;left:1852.00px;top:1363.90px;width:9px;height:25.70px;background:#cbdff5"></div>
<div style="position:absolute;left:1863.00px;top:1362.90px;width:9px;height:26.70px;background:#cbdff5"></div>
<div style="position:absolute;left:1874.00px;top:1360.20px;width:9px;height:29.40px;background:#cbdff5"></div>
<div style="position:absolute;left:1885.00px;top:1358.30px;width:9px;height:31.30px;background:#cbdff5"></div>
<svg style="position:absolute;left:1921.60px;top:1358.40px;overflow:visible" width="25.60" height="25.60" viewBox="0 0 24 24"><circle cx="12" cy="12" r="12" fill="#a8a8a8"/><path d="M8.2 9.4C8.2 6.9 9.8 5.3 12.1 5.3C14.3 5.3 15.6 6.7 15.6 8.4C15.6 9.9 14.6 10.7 13.6 11.5C12.5 12.4 12 13.1 12 14.9" fill="none" stroke="#fff" stroke-width="3.5"/><rect x="9.9" y="16.3" width="4.2" height="4.1" rx="1.2" fill="#fff"/></svg>
<div style="position:absolute;left:1993.00px;top:1358.40px;width:7.2px;height:7.2px;border-radius:50%;background:#a8a8a8"></div>
<div style="position:absolute;left:1993.00px;top:1367.60px;width:7.2px;height:7.2px;border-radius:50%;background:#a8a8a8"></div>
<div style="position:absolute;left:1993.00px;top:1376.80px;width:7.2px;height:7.2px;border-radius:50%;background:#a8a8a8"></div>
<div class="hl" style="left:46px;top:1402.30px;width:1967px"></div>
<svg style="position:absolute;left:46.00px;top:1422.64px;overflow:visible" width="25.40" height="25.40" viewBox="0 0 24 24"><circle cx="12" cy="12" r="12" fill="#3185d9"/><rect x="10.15" y="5.6" width="3.7" height="3.3" rx="0.6" fill="#fff"/><rect x="10.15" y="10.7" width="3.7" height="8.3" fill="#fff"/></svg>
<div style="position:absolute;top:1423.030px;font-size:26px;line-height:26px;white-space:nowrap;color:#333;left:90.00px;letter-spacing:0px;">Word count changed</div>
<div style="position:absolute;top:1424.330px;font-size:25.4px;line-height:25.4px;white-space:nowrap;color:#333;right:1221.70px;">29</div>
<div style="position:absolute;top:1424.330px;font-size:25.4px;line-height:25.4px;white-space:nowrap;color:#d9171a;right:1039.70px;">4</div>
<svg style="position:absolute;left:1019.5px;top:1427.84px" width="22" height="13.5" viewBox="0 0 22 13.5"><path d="M11 0L22 13.5H0Z" fill="#ef3030"/></svg>
<div style="position:absolute;left:1169.00px;top:1436.24px;width:18.5px;height:2px;background:#b0b0b0"></div>
<div style="position:absolute;left:1351.50px;top:1436.24px;width:18.5px;height:2px;background:#b0b0b0"></div>
<div style="position:absolute;left:1533.50px;top:1436.24px;width:18.5px;height:2px;background:#b0b0b0"></div>
<div style="position:absolute;left:1716.00px;top:1436.24px;width:18.5px;height:2px;background:#b0b0b0"></div>
<div style="position:absolute;left:1786.00px;top:1451.94px;width:9px;height:1.80px;background:#a6c9ec"></div>
<div style="position:absolute;left:1797.00px;top:1451.94px;width:9px;height:1.80px;background:#cbdff5"></div>
<div style="position:absolute;left:1808.00px;top:1451.94px;width:9px;height:1.80px;background:#cbdff5"></div>
<div style="position:absolute;left:1819.00px;top:1417.14px;width:9px;height:36.60px;background:#cbdff5"></div>
<div style="position:absolute;left:1830.00px;top:1447.54px;width:9px;height:6.20px;background:#cbdff5"></div>
<div style="position:absolute;left:1841.00px;top:1447.54px;width:9px;height:6.20px;background:#cbdff5"></div>
<div style="position:absolute;left:1852.00px;top:1451.94px;width:9px;height:1.80px;background:#cbdff5"></div>
<div style="position:absolute;left:1863.00px;top:1451.94px;width:9px;height:1.80px;background:#cbdff5"></div>
<div style="position:absolute;left:1874.00px;top:1451.94px;width:9px;height:1.80px;background:#cbdff5"></div>
<div style="position:absolute;left:1885.00px;top:1451.94px;width:9px;height:1.80px;background:#cbdff5"></div>
<svg style="position:absolute;left:1921.60px;top:1422.54px;overflow:visible" width="25.60" height="25.60" viewBox="0 0 24 24"><circle cx="12" cy="12" r="12" fill="#a8a8a8"/><path d="M8.2 9.4C8.2 6.9 9.8 5.3 12.1 5.3C14.3 5.3 15.6 6.7 15.6 8.4C15.6 9.9 14.6 10.7 13.6 11.5C12.5 12.4 12 13.1 12 14.9" fill="none" stroke="#fff" stroke-width="3.5"/><rect x="9.9" y="16.3" width="4.2" height="4.1" rx="1.2" fill="#fff"/></svg>
<div style="position:absolute;left:1993.00px;top:1422.54px;width:7.2px;height:7.2px;border-radius:50%;background:#a8a8a8"></div>
<div style="position:absolute;left:1993.00px;top:1431.74px;width:7.2px;height:7.2px;border-radius:50%;background:#a8a8a8"></div>
<div style="position:absolute;left:1993.00px;top:1440.94px;width:7.2px;height:7.2px;border-radius:50%;background:#a8a8a8"></div>
<div class="hl" style="left:46px;top:1466.44px;width:1967px"></div>
<svg style="position:absolute;left:46.00px;top:1486.78px;overflow:visible" width="25.40" height="25.40" viewBox="0 0 24 24"><circle cx="12" cy="12" r="12" fill="#3185d9"/><rect x="10.15" y="5.6" width="3.7" height="3.3" rx="0.6" fill="#fff"/><rect x="10.15" y="10.7" width="3.7" height="8.3" fill="#fff"/></svg>
<div style="position:absolute;top:1487.030px;font-size:26px;line-height:26px;white-space:nowrap;color:#333;left:90.00px;letter-spacing:-0.034px;">Indexable page became non-indexable</div>
<div style="position:absolute;top:1488.330px;font-size:25.4px;line-height:25.4px;white-space:nowrap;color:#333;right:1221.70px;">8</div>
<div style="position:absolute;top:1488.330px;font-size:25.4px;line-height:25.4px;white-space:nowrap;color:#d9171a;right:1039.70px;">1</div>
<svg style="position:absolute;left:1019.5px;top:1491.98px" width="22" height="13.5" viewBox="0 0 22 13.5"><path d="M11 0L22 13.5H0Z" fill="#ef3030"/></svg>
<div style="position:absolute;left:1169.00px;top:1500.38px;width:18.5px;height:2px;background:#b0b0b0"></div>
<div style="position:absolute;left:1351.50px;top:1500.38px;width:18.5px;height:2px;background:#b0b0b0"></div>
<div style="position:absolute;left:1533.50px;top:1500.38px;width:18.5px;height:2px;background:#b0b0b0"></div>
<div style="position:absolute;left:1716.00px;top:1500.38px;width:18.5px;height:2px;background:#b0b0b0"></div>
<div style="position:absolute;left:1786.00px;top:1506.08px;width:9px;height:11.80px;background:#a6c9ec"></div>
<div style="position:absolute;left:1797.00px;top:1496.08px;width:9px;height:21.80px;background:#cbdff5"></div>
<div style="position:absolute;left:1808.00px;top:1493.18px;width:9px;height:24.70px;background:#cbdff5"></div>
<div style="position:absolute;left:1819.00px;top:1491.48px;width:9px;height:26.40px;background:#cbdff5"></div>
<div style="position:absolute;left:1830.00px;top:1490.48px;width:9px;height:27.40px;background:#cbdff5"></div>
<div style="position:absolute;left:1841.00px;top:1481.28px;width:9px;height:36.60px;background:#cbdff5"></div>
<div style="position:absolute;left:1852.00px;top:1498.08px;width:9px;height:19.80px;background:#cbdff5"></div>
<div style="position:absolute;left:1863.00px;top:1505.08px;width:9px;height:12.80px;background:#cbdff5"></div>
<div style="position:absolute;left:1874.00px;top:1488.98px;width:9px;height:28.90px;background:#cbdff5"></div>
<div style="position:absolute;left:1885.00px;top:1493.98px;width:9px;height:23.90px;background:#cbdff5"></div>
<svg style="position:absolute;left:1921.60px;top:1486.68px;overflow:visible" width="25.60" height="25.60" viewBox="0 0 24 24"><circle cx="12" cy="12" r="12" fill="#a8a8a8"/><path d="M8.2 9.4C8.2 6.9 9.8 5.3 12.1 5.3C14.3 5.3 15.6 6.7 15.6 8.4C15.6 9.9 14.6 10.7 13.6 11.5C12.5 12.4 12 13.1 12 14.9" fill="none" stroke="#fff" stroke-width="3.5"/><rect x="9.9" y="16.3" width="4.2" height="4.1" rx="1.2" fill="#fff"/></svg>
<div style="position:absolute;left:1993.00px;top:1486.68px;width:7.2px;height:7.2px;border-radius:50%;background:#a8a8a8"></div>
<div style="position:absolute;left:1993.00px;top:1495.88px;width:7.2px;height:7.2px;border-radius:50%;background:#a8a8a8"></div>
<div style="position:absolute;left:1993.00px;top:1505.08px;width:7.2px;height:7.2px;border-radius:50%;background:#a8a8a8"></div>
<div class="hl" style="left:16px;top:1530.58px;width:2027px"></div>
</div></body></html>
